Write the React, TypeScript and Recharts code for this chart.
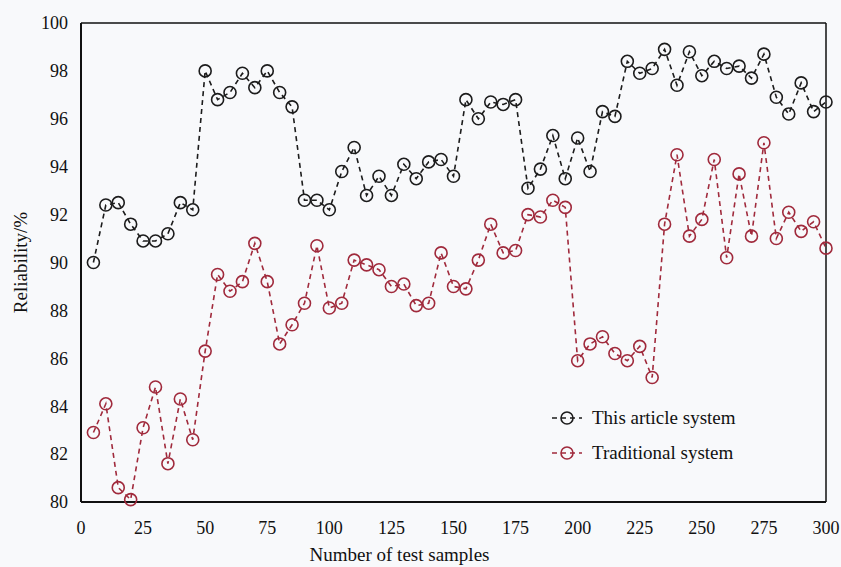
import React from "react";
import { LineChart, Line, XAxis, YAxis, ReferenceLine, Label } from "recharts";

const samples = [5,10,15,20,25,30,35,40,45,50,55,60,65,70,75,80,85,90,95,100,105,110,115,120,125,130,135,140,145,150,155,160,165,170,175,180,185,190,195,200,205,210,215,220,225,230,235,240,245,250,255,260,265,270,275,280,285,290,295,300];
const thisSystem = [90.0,92.4,92.5,91.6,90.9,90.9,91.2,92.5,92.2,98.0,96.8,97.1,97.9,97.3,98.0,97.1,96.5,92.6,92.6,92.2,93.8,94.8,92.8,93.6,92.8,94.1,93.5,94.2,94.3,93.6,96.8,96.0,96.7,96.6,96.8,93.1,93.9,95.3,93.5,95.2,93.8,96.3,96.1,98.4,97.9,98.1,98.9,97.4,98.8,97.8,98.4,98.1,98.2,97.7,98.7,96.9,96.2,97.5,96.3,96.7];
const traditional = [82.9,84.1,80.6,80.1,83.1,84.8,81.6,84.3,82.6,86.3,89.5,88.8,89.2,90.8,89.2,86.6,87.4,88.3,90.7,88.1,88.3,90.1,89.9,89.7,89.0,89.1,88.2,88.3,90.4,89.0,88.9,90.1,91.6,90.4,90.5,92.0,91.9,92.6,92.3,85.9,86.6,86.9,86.2,85.9,86.5,85.2,91.6,94.5,91.1,91.8,94.3,90.2,93.7,91.1,95.0,91.0,92.1,91.3,91.7,90.6];
const xTicks = [0,25,50,75,100,125,150,175,200,225,250,275,300];
const yTicks = [80,82,84,86,88,90,92,94,96,98,100];
const seriesNames = ["This article system", "Traditional system"];

const data = samples.map((s, i) => ({ x: s, a: thisSystem[i], b: traditional[i] }));

const BLACK = "#1c1c1c";
const RED = "#a02a3c";
const FONT = "'Liberation Serif', 'Times New Roman', serif";

const LegendBox = () => (
  <div style={{ position: "absolute", left: 550, top: 400, fontFamily: FONT, fontSize: 19, color: "#111" }}>
    {[{ c: BLACK, n: seriesNames[0] }, { c: RED, n: seriesNames[1] }].map((it, i) => (
      <div key={i} style={{ display: "flex", alignItems: "center", height: 35 }}>
        <svg width={38} height={16}>
          <line x1={2} y1={8} x2={32} y2={8} stroke={it.c} strokeWidth={1.6} strokeDasharray="5 4" />
          <circle cx={17} cy={8} r={6} fill="none" stroke={it.c} strokeWidth={1.6} />
        </svg>
        <span style={{ marginLeft: 4 }}>{it.n}</span>
      </div>
    ))}
  </div>
);

export default function App() {
  return (
    <div style={{ position: "absolute", left: 0, top: 0, width: 841, height: 567, background: "#f8f9fb" }}>
      <LineChart width={841} height={567} data={data} margin={{ top: 23, right: 15, bottom: 0, left: 0 }}>
        <XAxis
          dataKey="x"
          type="number"
          domain={[0, 300]}
          ticks={xTicks}
          tickLine={false}
          tickSize={0}
          tickMargin={19}
          height={65}
          axisLine={{ stroke: "#111", strokeWidth: 2 }}
          tick={{ fill: "#111", fontSize: 18, fontFamily: FONT }}
        >
          <Label value="Number of test samples" position="insideBottom" offset={6} dx={-54}
            style={{ fill: "#111", fontSize: 19, fontFamily: FONT }} />
        </XAxis>
        <YAxis
          type="number"
          domain={[80, 100]}
          ticks={yTicks}
          tickLine={false}
          tickSize={0}
          tickMargin={13}
          width={81}
          axisLine={{ stroke: "#111", strokeWidth: 2 }}
          tick={{ fill: "#111", fontSize: 18, fontFamily: FONT }}
        >
          <Label value="Reliability/%" angle={-90} position="insideLeft" offset={20}
            style={{ fill: "#111", fontSize: 19, fontFamily: FONT, textAnchor: "middle" }} />
        </YAxis>
        <ReferenceLine y={100} stroke="#111" strokeWidth={1.5} />
        <ReferenceLine x={300} stroke="#111" strokeWidth={1.5} />
        <Line dataKey="a" name={seriesNames[0]} stroke={BLACK} strokeWidth={1.6} strokeDasharray="5 4"
          dot={{ r: 6, fill: "none", stroke: BLACK, strokeWidth: 1.6, strokeDasharray: "" }} isAnimationActive={false} />
        <Line dataKey="b" name={seriesNames[1]} stroke={RED} strokeWidth={1.6} strokeDasharray="5 4"
          dot={{ r: 6, fill: "none", stroke: RED, strokeWidth: 1.6, strokeDasharray: "" }} isAnimationActive={false} />
      </LineChart>
      <LegendBox />
    </div>
  );
}
